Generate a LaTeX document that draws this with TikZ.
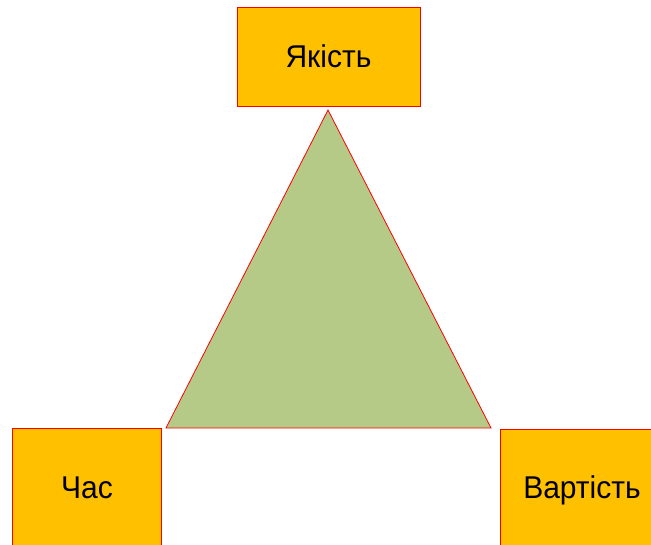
\documentclass[tikz,border=0pt]{standalone}
\usepackage{fontspec}
\setmainfont{Liberation Sans}
\definecolor{boxfill}{HTML}{FFC000}
\definecolor{trifill}{HTML}{B5CA87}
\definecolor{edge}{HTML}{FF0000}
\begin{document}
\begin{tikzpicture}[x=1pt,y=-1pt,
  labelbox/.style={fill=boxfill,draw=edge,line width=0.8pt},
  labeltext/.style={font=\fontsize{30}{34}\selectfont,text=black,anchor=base,inner sep=0pt,yscale=1.05}]
\useasboundingbox (0,0) rectangle (651,544);
\clip (0,0) rectangle (651,544);
\fill[white] (0,0) rectangle (651,544);
% triangle
\coordinate (apex) at (328,110);
\coordinate (bl) at (166,428);
\coordinate (br) at (491,428);
\filldraw[fill=trifill,draw=edge,line width=0.8pt,line join=miter] (apex) -- (bl) -- (br) -- cycle;
% boxes
\draw[labelbox] (237,7) rectangle (420,106);
\node[labeltext] (q) at (328.5,67) {Якість};
\draw[labelbox] (12,428) rectangle (161,560);
\node[labeltext] (t) at (87,498) {Час};
\draw[labelbox] (500,429) rectangle (670,560);
\node[labeltext] (c) at (582,498) {Вартість};
\end{tikzpicture}
\end{document}
